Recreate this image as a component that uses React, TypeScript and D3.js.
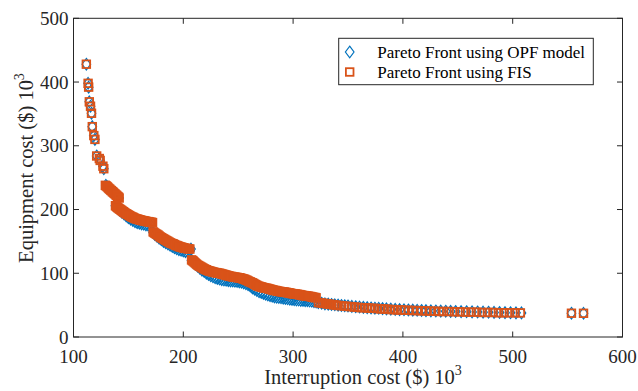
import React from "react";
import * as d3 from "d3";

// ---- Data (values in $10^3) ----
const opfX = [
  111.7, 113.3, 113.8, 114.4, 115.5, 116.4, 117.1, 118.5, 119.5, 121.1, 123.5, 124.3, 126.8, 127.6,
  129.5, 130.5, 131.5, 132.5, 133.5, 134.5, 135.5, 136.5, 137.5, 138.5, 139.5, 140.5, 141.5,
  138.2, 140, 142, 144, 146, 148, 150, 152, 154, 156, 158, 160, 162, 164, 166, 168, 170, 171.5,
  172.5, 174, 176, 178, 180, 182, 184, 186, 188, 190, 192, 194, 196, 198, 200, 202, 204, 206, 207,
  207.5, 209, 211, 213, 215, 217, 219, 221, 223, 225, 227, 229, 231, 233, 235, 237, 239, 241, 243, 245, 247, 249, 251, 253, 255, 257,
  259, 261, 263, 265, 267, 269, 271, 273, 275, 277, 279, 281, 283, 285, 287, 289, 291, 293, 295, 297, 299, 301, 303, 305, 307, 309, 311, 313, 315, 317, 319, 321,
  323, 326, 329, 332, 335, 338, 341, 344, 347, 350, 353.5, 357, 360.5, 364, 367.5, 371, 374.5, 378, 381.5, 385, 389, 393, 397, 401, 405, 409, 413, 417, 421, 425.5, 430, 434.5, 439, 443.5, 448, 453, 458, 463, 468, 473, 478, 483, 488, 493, 498, 503, 508,
  553.5, 564.5,
];
const opfY = [
  428, 398, 392, 369, 362, 351, 330, 316, 310, 284, 280, 277, 268, 264,
  238, 236, 235, 233, 231, 230, 228, 226, 225, 223, 221, 220, 218,
  206, 203, 199, 196, 193, 190, 187, 185, 183, 181, 179.5, 178.5, 177.5, 177, 176, 175.5, 176, 178,
  164, 161, 158, 155, 152.5, 150, 148, 146, 144, 142, 140, 138.5, 137, 136, 135, 134, 134, 135, 138,
  120, 117, 114, 111, 108, 105, 103, 100, 98, 96, 94.5, 93, 92, 91, 90, 89.5, 89, 88.5, 88, 88, 87.5, 87, 86.5, 86, 85, 83.5,
  82, 80, 77, 75, 73, 71, 70, 68.5, 67, 66, 65, 64, 63, 62.5, 62, 61.5, 61, 60.5, 60, 59.5, 59, 58.5, 58, 58, 57.5, 57.5, 57, 57, 56.5, 56, 55.5, 55,
  54, 53, 52, 51.5, 51, 50.5, 50, 49.5, 49, 48.6, 48, 47.5, 47, 46.5, 46, 45.5, 45.2, 45, 44.6, 44.2, 43.8, 43.4, 43, 42.7, 42.4, 42.1, 41.9, 41.6, 41.3, 41, 40.8, 40.6, 40.4, 40.2, 40, 39.8, 39.6, 39.4, 39.2, 39, 38.8, 38.6, 38.4, 38.2, 38, 37.9, 37.8,
  37.3, 37.2,
];

const fisX = [
  111.7, 113.3, 113.8, 114.4, 115.5, 116.4, 117.1, 118.5, 119.5, 121.1, 123.5, 124.3, 126.8, 127.6,
  129, 129.8, 130.6, 131.4, 132.2, 133, 133.8, 134.6, 135.4, 136.2, 137, 137.8, 138.6, 139.4, 140.2, 141, 141.6,
  138.2, 139, 139.8, 140.6, 141.4, 142.2, 143, 143.8, 144.6, 145.4, 146.2, 147, 148, 149, 150, 151, 152, 153, 154, 155, 156, 157, 158, 159, 160, 161, 162, 163, 164, 165, 166, 167, 168, 169, 170, 171, 172,
  172.5, 173.3, 174.1, 175, 176, 177, 178, 179, 180, 181, 182, 183, 184, 185, 186, 187, 188, 189, 190, 191, 192, 193, 194, 195, 196, 197, 198, 199, 200, 201, 202, 203, 204, 205, 206,
  207.5, 208.3, 209.1, 210, 211, 212, 213, 214, 215, 216, 217, 218, 219, 220, 221, 222, 223, 224, 225, 226, 227, 228, 229, 230, 231, 232, 233, 234, 235, 236, 237, 238, 239, 240, 241, 242, 243, 244, 245, 246, 247, 248, 249, 250, 251, 252, 253, 254, 255, 256, 257, 258,
  259, 260, 261, 262, 263, 264, 265, 266, 267, 268, 269, 270, 271, 272, 273, 274, 275, 276, 277, 278, 279, 280, 281, 282, 283, 284, 285, 286, 287, 288, 289, 290, 291, 292, 293, 294, 295, 296, 297, 298, 299, 300, 301, 302, 303, 304, 305, 306, 307, 308, 309, 310, 311, 312, 313, 314, 315, 316, 317, 318, 319, 320, 321,
  323, 325, 327, 329, 331, 333, 335, 337, 339, 341, 344, 347, 350, 353, 356, 359, 362, 365, 368, 371, 374, 377, 380, 383, 386, 389, 392, 395, 398, 401, 405, 409, 413, 417, 421, 425, 429, 433, 437, 442, 447, 452, 457, 462, 467, 472, 477, 482, 487, 492, 497, 502, 507,
  553.5, 564.5,
];
const fisY = [
  428, 398, 392, 369, 362, 351, 330, 316, 310, 284, 280, 277, 268, 264,
  238, 237, 236, 234.5, 233, 232, 230.5, 229.5, 228, 227, 225.5, 224.5, 223, 222, 220.5, 219.5, 218,
  206, 205, 203.5, 202.5, 201.5, 200.5, 199.5, 198.5, 197.5, 196.5, 195.5, 194.5, 193.5, 192.5, 191.5, 190.5, 189.5, 188.5, 188, 187, 186, 185.5, 185, 184.5, 184, 183.5, 183, 182.5, 182.5, 182, 181.5, 181, 181, 180.5, 180, 180, 179.5,
  165, 164, 163, 162, 161, 160, 158.5, 157, 156, 155, 154, 153, 152, 151, 150, 149, 148, 147, 146.5, 146, 145, 144, 143.5, 143, 142, 141.5, 141, 140.5, 140, 139.5, 139, 139, 138.5, 138.5, 138,
  121, 120, 119, 117.5, 116, 114.5, 113, 112, 111, 110, 109, 108, 107, 106, 105.5, 104.5, 104, 103.5, 103, 102.5, 102, 101.5, 101, 101, 100.5, 100, 100, 99.5, 99, 98.5, 98, 97.5, 97, 96.5, 96, 95.5, 95, 95, 94.5, 94, 94, 93.5, 93.5, 93, 93, 92.5, 92, 91.5, 91, 90.5, 89.5, 89,
  88, 87, 86.5, 85.5, 85, 84, 83, 82, 81, 80, 79.5, 79, 78.5, 78, 77.5, 77, 76.5, 76.5, 76, 75.5, 75, 74.5, 74, 73.5, 73, 73, 72.5, 72, 71.5, 71.5, 71, 71, 70.5, 70.5, 70, 70, 69.5, 69.5, 69, 68.5, 68, 68, 67.5, 67.5, 67, 67, 66.5, 66.5, 66, 65.5, 65, 65, 64.5, 64.5, 64, 64, 63.5, 63.5, 63, 62.5, 62, 62, 61.5,
  54, 53.5, 53, 52.5, 52, 51.5, 51, 50.5, 50, 49.5, 49, 48.5, 48, 47.5, 47, 46.5, 46, 46, 45.5, 45, 45, 44.5, 44, 44, 43.5, 43, 43, 42.5, 42.5, 42, 42, 41.5, 41.5, 41, 41, 40.5, 40.5, 40, 40, 40, 39.5, 39.5, 39, 39, 39, 38.5, 38.5, 38.5, 38, 38, 38, 38, 37.8,
  37.3, 37.2,
];

const xTicks = [100, 200, 300, 400, 500, 600];
const yTicks = [0, 100, 200, 300, 400, 500];
const seriesNames = ["Pareto Front using OPF model", "Pareto Front using FIS"];

const W = 638;
const H = 391;
const L = 73.5, R = 622.5, T = 18.3, B = 337;
const BLUE = "#0072BD";
const ORANGE = "#D95319";
const AX = "#262626";
const FONT = "'Liberation Serif', 'Times New Roman', serif";

export default function App() {
  const x = d3.scaleLinear().domain([100, 600]).range([L, R]);
  const y = d3.scaleLinear().domain([0, 500]).range([B, T]);
  const tk = 5.5;
  const diamond = (cx: number, cy: number) =>
    `M${cx},${cy - 5.8}L${cx + 4.3},${cy}L${cx},${cy + 5.8}L${cx - 4.3},${cy}Z`;
  const sq = 3.8;

  return (
    <svg width={W} height={H} style={{ position: "absolute", left: 0, top: 0, background: "#fff" }}>
      <rect x={0} y={0} width={W} height={H} fill="#fff" />
      {/* data */}
      <g fill="none" stroke={BLUE} strokeWidth={1.2}>
        {opfX.map((v, i) => (
          <path key={i} d={diamond(x(v), y(opfY[i]))} />
        ))}
      </g>
      <g fill="none" stroke={ORANGE} strokeWidth={1.8}>
        {fisX.map((v, i) => (
          <rect key={i} x={x(v) - sq} y={y(fisY[i]) - sq} width={sq * 2} height={sq * 2} />
        ))}
      </g>
      {/* axes box */}
      <rect x={L} y={T} width={R - L} height={B - T} fill="none" stroke={AX} strokeWidth={1} />
      <g stroke={AX} strokeWidth={1}>
        {xTicks.map((t) => (
          <g key={"x" + t}>
            <line x1={x(t)} x2={x(t)} y1={B} y2={B - tk} />
            <line x1={x(t)} x2={x(t)} y1={T} y2={T + tk} />
          </g>
        ))}
        {yTicks.map((t) => (
          <g key={"y" + t}>
            <line x1={L} x2={L + tk} y1={y(t)} y2={y(t)} />
            <line x1={R} x2={R - tk} y1={y(t)} y2={y(t)} />
          </g>
        ))}
      </g>
      <g fontFamily={FONT} fontSize={19} fill={AX}>
        {xTicks.map((t) => (
          <text key={"xl" + t} x={x(t)} y={B + 26} textAnchor="middle">
            {t}
          </text>
        ))}
        {yTicks.map((t) => (
          <text key={"yl" + t} x={L - 5} y={y(t) + 6.5} textAnchor="end">
            {t}
          </text>
        ))}
      </g>
      {/* axis labels */}
      <text x={363} y={384} textAnchor="middle" fontFamily={FONT} fontSize={20.5} fill={AX}>
        Interruption cost ($) 10
        <tspan fontSize={14} dy={-9}>3</tspan>
      </text>
      <text
        transform={`translate(33,168) rotate(-90)`}
        textAnchor="middle"
        fontFamily={FONT}
        fontSize={20.5}
        fill={AX}
      >
        Equipment cost ($) 10
        <tspan fontSize={14} dy={-9}>3</tspan>
      </text>
      {/* legend */}
      <rect x={338.7} y={38.3} width={254.6} height={46.4} fill="#fff" stroke={AX} strokeWidth={1} />
      <path d={diamond(349.7, 52)} fill="none" stroke={BLUE} strokeWidth={1.2} />
      <rect x={349.7 - sq} y={72 - sq} width={sq * 2} height={sq * 2} fill="none" stroke={ORANGE} strokeWidth={1.8} />
      <g fontFamily={FONT} fontSize={17} fill="#000">
        <text x={377.3} y={57.5}>{seriesNames[0]}</text>
        <text x={377.3} y={77.5}>{seriesNames[1]}</text>
      </g>
    </svg>
  );
}
